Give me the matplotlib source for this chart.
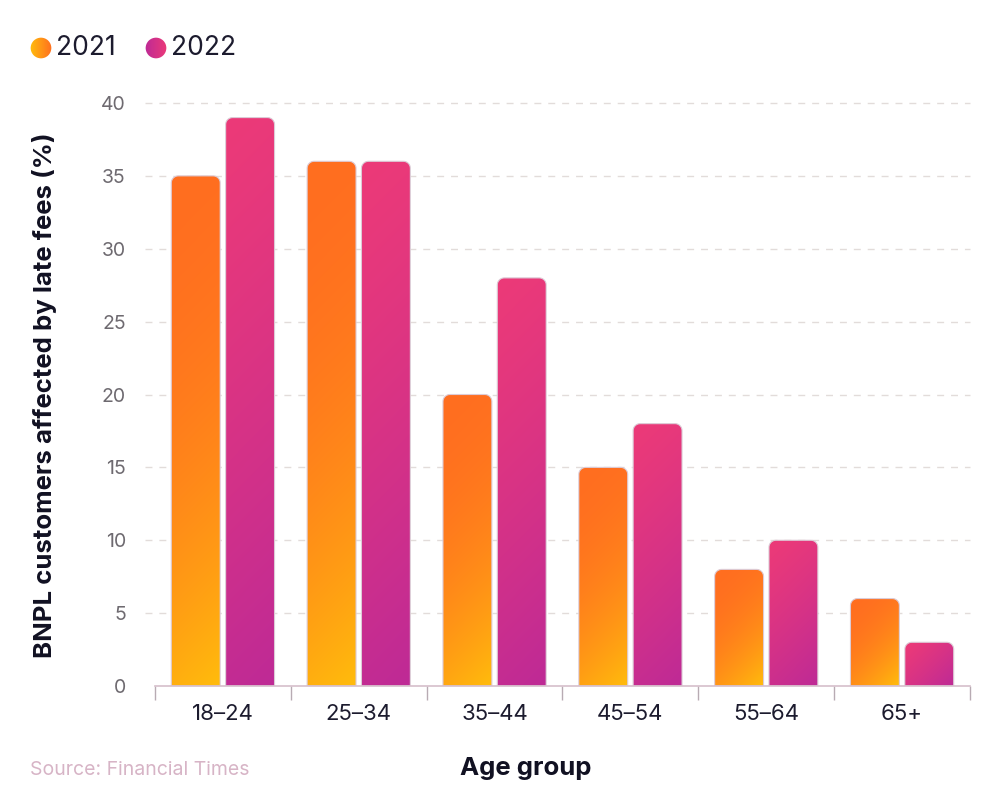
import numpy as np
import matplotlib
matplotlib.use("Agg")
import matplotlib.pyplot as plt
from matplotlib.path import Path
from matplotlib.patches import PathPatch, Circle
from matplotlib.colors import to_rgb

plt.rcParams["font.family"] = ["Inter", "DejaVu Sans"]

# ---- data ----
age_groups = ["18\u201324", "25\u201334", "35\u201344", "45\u201354", "55\u201364", "65+"]
fees_2021 = [35, 36, 20, 15, 8, 6]
fees_2022 = [39, 36, 28, 18, 10, 3]
series = ["2021", "2022"]

# gradient end colours (top-left -> bottom-right)
grad_2021 = ("#FF6E20", "#FFBC0C")
grad_2022 = ("#EC3A78", "#BE2A96")

W, H = 1000, 811
fig = plt.figure(figsize=(W / 100, H / 100), dpi=100)
ax_l, ax_r = 155, 970
ax_b, y40 = 686, 103
ymax = 41
px_per_unit = (ax_b - y40) / 40
ax_t = ax_b - ymax * px_per_unit
ax = fig.add_axes([ax_l / W, (H - ax_b) / H, (ax_r - ax_l) / W, (ax_b - ax_t) / H])
ax.set_xlim(-0.5, len(age_groups) - 0.5)
ax.set_ylim(0, ymax)

px_per_x = (ax_r - ax_l) / len(age_groups)
bar_w = 0.36
offset = 0.2
r_px = 7


def rounded_top(x0, w, h):
    rx = r_px / px_per_x
    ry = min(r_px / px_per_unit, h / 2)
    a = np.linspace(0, np.pi / 2, 12)
    verts = [(x0, 0)]
    # top-left corner
    verts += list(zip(x0 + rx - rx * np.cos(a), h - ry + ry * np.sin(a)))
    # top-right corner
    verts += list(zip(x0 + w - rx + rx * np.sin(a), h - ry + ry * np.cos(a)))
    verts += [(x0 + w, 0), (x0, 0)]
    codes = [Path.MOVETO] + [Path.LINETO] * (len(verts) - 2) + [Path.CLOSEPOLY]
    return Path(verts, codes)


def gradient_img(w_px, h_px, c0, c1, gamma):
    nx, ny = max(int(w_px), 2), max(int(h_px), 2)
    u = np.linspace(0, w_px, nx)[None, :]
    v = np.linspace(0, h_px, ny)[:, None]
    t = (u + v) / (w_px + h_px)
    t = t ** gamma
    a, b = np.array(to_rgb(c0)), np.array(to_rgb(c1))
    return a + (b - a) * t[..., None]


x = np.arange(len(age_groups))
for vals, sgn, grad, gam in [(fees_2021, -1, grad_2021, 2.0), (fees_2022, 1, grad_2022, 1.2)]:
    for xi, v in zip(x, vals):
        x0 = xi + sgn * offset - bar_w / 2
        path = rounded_top(x0, bar_w, v)
        img = gradient_img(bar_w * px_per_x, v * px_per_unit, grad[0], grad[1], gam)
        im = ax.imshow(img, extent=[x0, x0 + bar_w, 0, v], origin="upper",
                       aspect="auto", interpolation="bilinear", zorder=3)
        patch = PathPatch(path, transform=ax.transData, facecolor="none",
                          edgecolor="#dccbd6", lw=0.8, zorder=4)
        ax.add_patch(patch)
        im.set_clip_path(patch)

ax.set_xlim(-0.5, len(age_groups) - 0.5)
ax.set_ylim(0, ymax)

# dashed gridlines reaching slightly left of the axis
yticks = np.arange(5, 45, 5)
for yv in yticks:
    ax.plot([-0.012, 1], [yv, yv], transform=ax.get_yaxis_transform(),
            ls=(0, (5, 5)), color="#e2dcda", lw=1, clip_on=False, zorder=1)

for s in ["top", "right", "left"]:
    ax.spines[s].set_visible(False)
ax.spines["bottom"].set_color("#d6bfcb")
ax.spines["bottom"].set_linewidth(1.2)
ax.spines["bottom"].set_zorder(5)

ax.set_yticks(np.arange(0, 45, 5))
ax.tick_params(axis="y", length=0, pad=21, labelsize=14, labelcolor="#6e6a70")
ax.set_xticks(x)
ax.set_xticklabels(age_groups)
ax.tick_params(axis="x", which="major", length=0, pad=13, labelsize=16, labelcolor="#1c1b2e")
ax.set_xticks(np.arange(-0.5, len(age_groups), 1), minor=True)
ax.tick_params(axis="x", which="minor", length=10, width=1, color="#b8abb3")

fig.text(45 / W, 1 - 395 / H, "BNPL customers affected by late fees (%)", rotation=90,
         ha="center", va="center", fontsize=18.5, fontweight="bold", color="#111122")
fig.text(526 / W, 1 - 768 / H, "Age group", ha="center", va="center",
         fontsize=18.5, fontweight="bold", color="#111122")
fig.text(30 / W, 1 - 770 / H, "Source: Financial Times", ha="left", va="center",
         fontsize=14, color="#d7b4c6")

# legend with gradient dots
for cx, label, grad in [(41, series[0], grad_2021[::-1]), (156, series[1], grad_2022[::-1])]:
    d = 22
    lax = fig.add_axes([(cx - d / 2) / W, (H - 48 - d / 2) / H, d / W, d / H])
    lax.set_xlim(0, 1); lax.set_ylim(0, 1); lax.axis("off")
    img = gradient_img(40, 1, grad[0], grad[1], 1.0)
    img = np.repeat(img[:1], 20, axis=0)
    im = lax.imshow(img, extent=[0, 1, 0, 1], aspect="auto")
    circ = Circle((0.5, 0.5), 0.47, transform=lax.transData, facecolor="none", edgecolor="none")
    lax.add_patch(circ)
    im.set_clip_path(circ)
    fig.text((cx + 15) / W, 1 - 48 / H, label, ha="left", va="center",
             fontsize=19, color="#1c1b2e")

fig.savefig("out.png", dpi=100)
